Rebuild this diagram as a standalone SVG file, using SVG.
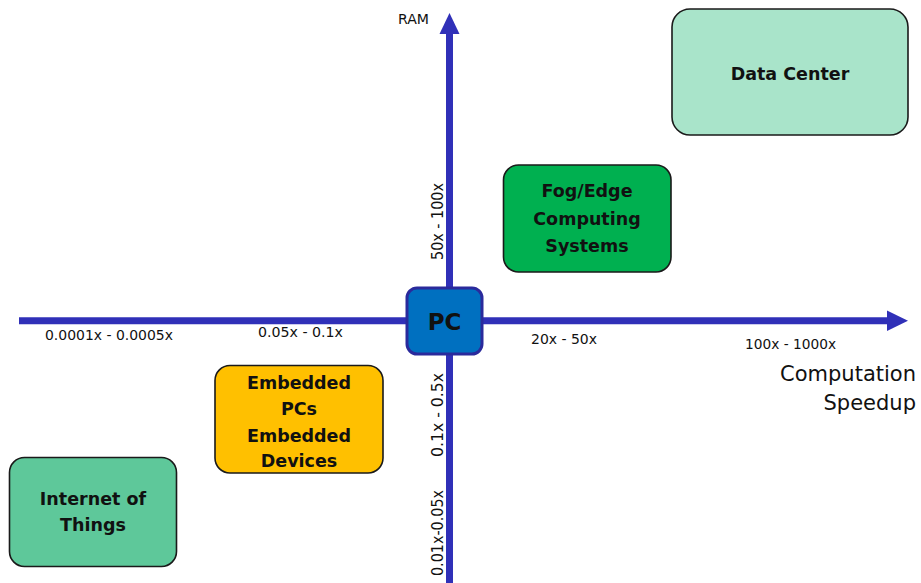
<svg xmlns="http://www.w3.org/2000/svg" width="921" height="583" viewBox="0 0 921 583">
<style>
.lbl{font-family:"DejaVu Sans",Verdana,sans-serif;font-size:14px;fill:#111}
.big{font-size:21px}
.vl{font-size:15px}
.box{stroke:#1a1a1a;stroke-width:1.6}
.bt{font-family:"DejaVu Sans",Verdana,sans-serif;font-weight:bold;font-size:17.5px;fill:#111;text-anchor:middle}
.pct{font-size:23px}
.axis{stroke:#3030b8;stroke-width:7;fill:none}
.head{fill:#3030b8}
</style>
<rect width="921" height="583" fill="#ffffff"/>
<g id="connectors">
<line class="axis" x1="19" y1="320.7" x2="889" y2="320.7"/>
<polygon class="head" points="887,310.5 908,320.7 887,331"/>
<line class="axis" x1="449.5" y1="583" x2="449.5" y2="32"/>
<polygon class="head" points="439.5,34 449.5,13 459.5,34"/>
</g>
<g id="axis-labels">
<text class="lbl" x="398" y="24" textLength="31" lengthAdjust="spacingAndGlyphs">RAM</text>
<text class="lbl" x="45" y="340" textLength="128" lengthAdjust="spacingAndGlyphs">0.0001x - 0.0005x</text>
<text class="lbl" x="258" y="337" textLength="85" lengthAdjust="spacingAndGlyphs">0.05x - 0.1x</text>
<text class="lbl" x="531" y="344" textLength="66" lengthAdjust="spacingAndGlyphs">20x - 50x</text>
<text class="lbl" x="745" y="348.5" textLength="91" lengthAdjust="spacingAndGlyphs">100x - 1000x</text>
<text class="lbl big" x="916" y="381" text-anchor="end">Computation</text>
<text class="lbl big" x="916" y="410" text-anchor="end">Speedup</text>
<text class="lbl vl" transform="translate(443,260) rotate(-90)" textLength="77" lengthAdjust="spacingAndGlyphs">50x - 100x</text>
<text class="lbl vl" transform="translate(443,457) rotate(-90)" textLength="84" lengthAdjust="spacingAndGlyphs">0.1x - 0.5x</text>
<text class="lbl vl" transform="translate(443,576) rotate(-90)" textLength="86" lengthAdjust="spacingAndGlyphs">0.01x-0.05x</text>
</g>
<g id="pc">
<rect x="407" y="288" width="75" height="66" rx="10" fill="#0070c0" stroke="#2a2a9c" stroke-width="3"/>
<text class="bt pct" x="444.5" y="330">PC</text>
</g>
<g id="data-center">
<rect class="box" x="672" y="9" width="236" height="126" rx="18" fill="#a9e4ca"/>
<text class="bt" x="790" y="80">Data Center</text>
</g>
<g id="fog-edge">
<rect class="box" x="503.5" y="165" width="167.5" height="107" rx="15" fill="#00b050"/>
<text class="bt" x="587" y="197">Fog/Edge</text>
<text class="bt" x="587" y="225">Computing</text>
<text class="bt" x="587" y="252">Systems</text>
</g>
<g id="embedded">
<rect class="box" x="215" y="365.5" width="168" height="107.5" rx="15" fill="#ffc000"/>
<text class="bt" x="299" y="389">Embedded</text>
<text class="bt" x="299" y="415">PCs</text>
<text class="bt" x="299" y="441.5">Embedded</text>
<text class="bt" x="299" y="467">Devices</text>
</g>
<g id="iot">
<rect class="box" x="9.5" y="457.5" width="167" height="109" rx="15" fill="#5ec89a"/>
<text class="bt" x="93" y="505">Internet of</text>
<text class="bt" x="93" y="530.5">Things</text>
</g>
</svg>
